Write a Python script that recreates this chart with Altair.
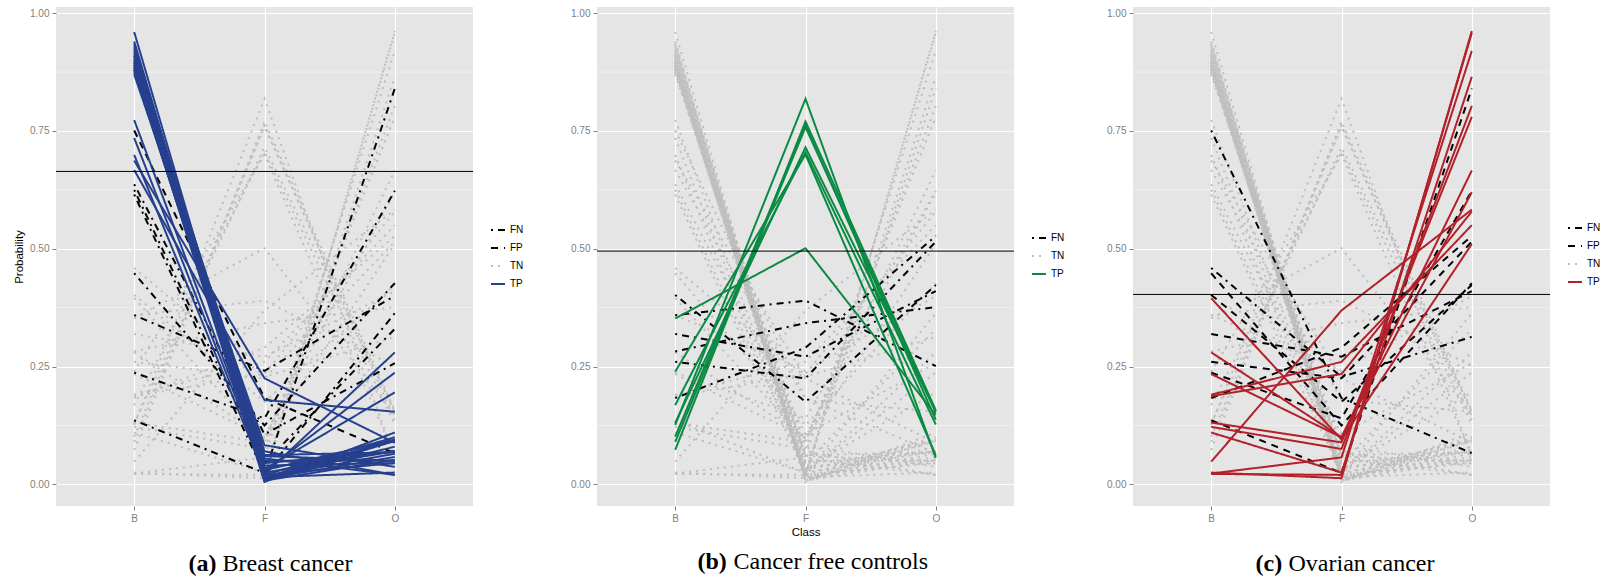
import altair as alt
import pandas as pd

CLASSES = ["B", "F", "O"]

# Predicted class probabilities (B, F, O) per sample, grouped by true class
breast_B = [0.960, 0.940, 0.935, 0.930, 0.925, 0.920, 0.915, 0.910, 0.905, 0.900,
            0.900, 0.895, 0.890, 0.890, 0.885, 0.885, 0.880, 0.880, 0.875, 0.870,
            0.910, 0.895, 0.773, 0.735, 0.699, 0.687, 0.667,
            0.637, 0.625, 0.615, 0.448, 0.359, 0.237, 0.136]
breast_F = [0.015, 0.008, 0.020, 0.012, 0.055, 0.015, 0.040, 0.010, 0.025, 0.050,
            0.008, 0.035, 0.060, 0.015, 0.005, 0.045, 0.020, 0.083, 0.030, 0.062,
            0.070, 0.012, 0.032, 0.028, 0.021, 0.225, 0.179,
            0.106, 0.045, 0.022, 0.125, 0.241, 0.140, 0.024]
breast_O = [0.025, 0.052, 0.045, 0.058, 0.020, 0.065, 0.045, 0.080, 0.070, 0.050,
            0.092, 0.070, 0.050, 0.095, 0.110, 0.070, 0.100, 0.037, 0.095, 0.068,
            0.020, 0.093, 0.195, 0.237, 0.280, 0.088, 0.154,
            0.257, 0.330, 0.363, 0.427, 0.400, 0.623, 0.840]

control_B = [0.126, 0.073, 0.101, 0.090, 0.130, 0.168, 0.239, 0.352,
             0.402, 0.359, 0.282, 0.319, 0.260, 0.183]
control_F = [0.818, 0.770, 0.762, 0.758, 0.715, 0.705, 0.700, 0.501,
             0.175, 0.390, 0.342, 0.271, 0.225, 0.290]
control_O = [0.056, 0.157, 0.137, 0.152, 0.155, 0.127, 0.061, 0.147,
             0.423, 0.251, 0.376, 0.410, 0.515, 0.527]

ovarian_B = [0.025, 0.022, 0.023, 0.110, 0.122, 0.131, 0.234, 0.280, 0.048, 0.187,
             0.190, 0.395, 0.751, 0.459]
ovarian_F = [0.013, 0.020, 0.057, 0.025, 0.075, 0.089, 0.100, 0.100, 0.369, 0.234,
             0.260, 0.095, 0.183, 0.228]
ovarian_O = [0.962, 0.958, 0.920, 0.865, 0.803, 0.780, 0.666, 0.620, 0.583, 0.579,
             0.550, 0.510, 0.066, 0.313]

THRESH = {"B": 0.664, "F": 0.495, "O": 0.403}
TP_COLOR = {"B": "#26408E", "F": "#0B8A43", "O": "#B2212A"}
CAPTION_TAG = {"B": "(a)", "F": "(b)", "O": "(c)"}
CAPTION_TEXT = {"B": "Breast cancer", "F": "Cancer free controls", "O": "Ovarian cancer"}
MAJOR_Y = [0, 0.25, 0.5, 0.75, 1.0]
MINOR_Y = [0.125, 0.375, 0.625, 0.875]
CAT_ORDER = ["FN", "FP", "TN", "TP"]
DRAW_ORDER = ["TN", "FN", "FP", "TP"]
CAT_DASH = {"FN": [2, 5, 7, 5], "FP": [7, 6], "TN": [2, 5], "TP": [1, 0]}
CAT_COLOR = {"FN": "black", "FP": "black", "TN": "#BDBDBD"}
CAP_FONT = "Liberation Serif"
CAP_SIZE = 24

samples = []
for truth, Bs, Fs, Os in [("B", breast_B, breast_F, breast_O),
                          ("F", control_B, control_F, control_O),
                          ("O", ovarian_B, ovarian_F, ovarian_O)]:
    for i, (b, f, o) in enumerate(zip(Bs, Fs, Os)):
        samples.append({"id": f"{truth}{i}", "truth": truth, "B": b, "F": f, "O": o})


def panel(target, width, legend_x, legend_y, ytitle, xtitle, tag_offset, tag_dx, text_dx):
    rows = []
    for s in samples:
        pos = s["truth"] == target
        pred = s[target] >= THRESH[target]
        cat = ("TP" if pred else "FN") if pos else ("FP" if pred else "TN")
        for c in CLASSES:
            rows.append({"id": s["id"], "cls": c, "p": s[c], "cat": cat})
    df = pd.DataFrame(rows)
    present = set(df["cat"])
    cats = [c for c in CAT_ORDER if c in present]
    colors = [TP_COLOR[target] if c == "TP" else CAT_COLOR[c] for c in cats]
    dashes = [CAT_DASH[c] for c in cats]

    yscale = alt.Scale(domain=[-0.046, 1.013], nice=False, zero=False)
    xscale = alt.Scale(type="point", domain=CLASSES, padding=0.6)
    yaxis = alt.Axis(values=MAJOR_Y, format=".2f", title=ytitle, grid=True, titlePadding=5)
    xaxis = alt.Axis(title=xtitle, labelAngle=0, grid=True, titlePadding=3)
    leg = alt.Legend(title=None, orient="none", legendX=legend_x, legendY=legend_y,
                     symbolType="stroke", symbolSize=196, symbolStrokeWidth=2,
                     labelFontSize=10, labelFont="Liberation Sans", labelColor="black",
                     rowPadding=5, padding=0, labelOffset=4)

    layers = [
        alt.Chart(pd.DataFrame({"v": MINOR_Y})).mark_rule(color="#F2F2F2", strokeWidth=0.8)
        .encode(y=alt.Y("v:Q", scale=yscale, axis=yaxis))
    ]
    for c in DRAW_ORDER:
        sub = df[df["cat"] == c]
        if len(sub) == 0:
            continue
        layers.append(
            alt.Chart(sub).mark_line(strokeWidth=2).encode(
                x=alt.X("cls:N", scale=xscale, axis=xaxis),
                y=alt.Y("p:Q", scale=yscale, axis=yaxis),
                detail="id:N",
                color=alt.Color("cat:N", scale=alt.Scale(domain=cats, range=colors), legend=leg),
                strokeDash=alt.StrokeDash("cat:N", scale=alt.Scale(domain=cats, range=dashes), legend=leg),
            )
        )
    layers.append(
        alt.Chart(pd.DataFrame({"t": [THRESH[target]]})).mark_rule(color="black", strokeWidth=1)
        .encode(y=alt.Y("t:Q", scale=yscale, axis=yaxis))
    )
    plot = alt.layer(*layers).properties(
        width=width, height=499,
        title=alt.TitleParams(text=CAPTION_TAG[target], orient="bottom", anchor="middle", align="left",
                              frame="group", font=CAP_FONT, fontSize=CAP_SIZE, fontWeight="bold",
                              color="black", offset=tag_offset, dx=tag_dx),
    )
    return alt.hconcat(plot, spacing=0).properties(
        title=alt.TitleParams(text=CAPTION_TEXT[target], orient="bottom", anchor="start", align="left",
                              frame="bounds", font=CAP_FONT, fontSize=CAP_SIZE, fontWeight="normal",
                              color="black", offset=-CAP_SIZE, dx=text_dx)
    )


pa = panel("B", 417, 434, 215, "Probability", None, 29, -76, 209)
pb = panel("F", 417, 434, 223, None, "Class", 12, -108, 163)
pc = panel("O", 417, 434, 213, None, None, 29, -86, 182)

inner = alt.hconcat(pa, pb, spacing=46).resolve_scale(color="independent", strokeDash="independent")
chart = alt.hconcat(inner, pc, spacing=41).resolve_scale(color="independent", strokeDash="independent")

chart = chart.properties(
    padding={"left": 13, "top": 7, "right": 0, "bottom": 0}
).configure(
    background="white"
).configure_view(
    fill="#E5E5E5", stroke=None
).configure_axis(
    domain=False, gridColor="white", gridWidth=1.2, tickColor="#7F7F7F", tickSize=4,
    labelColor="#7F7F7F", labelFont="Liberation Sans", labelFontSize=10, labelPadding=3,
    titleFont="Liberation Sans", titleFontSize=11.5, titleFontWeight="normal", titleColor="black"
)

chart.save("out.html", embed_options={"renderer": "svg", "actions": False})
